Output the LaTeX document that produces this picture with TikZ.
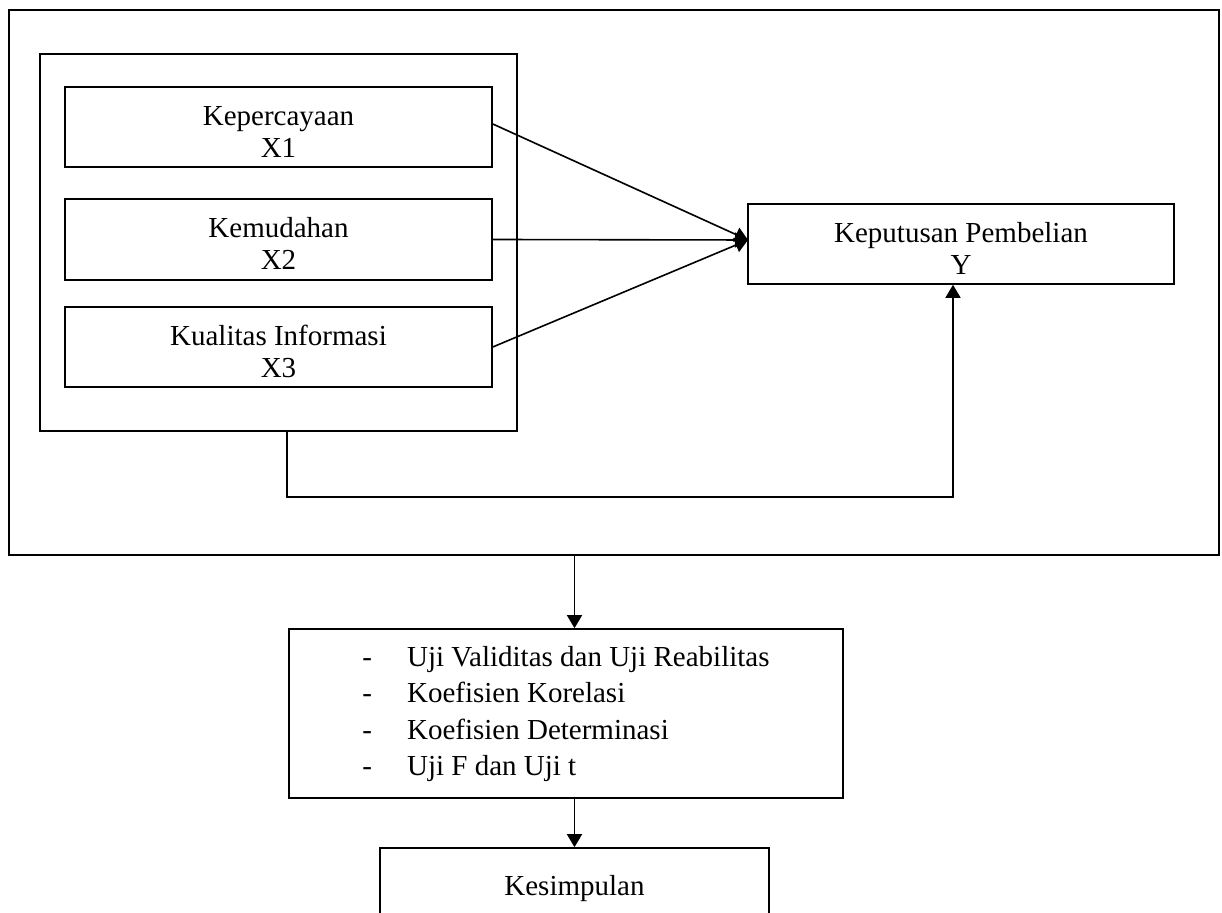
\documentclass[tikz,border=0pt]{standalone}
\usepackage{fontspec}
\setmainfont{Liberation Serif}
\usetikzlibrary{arrows.meta}
\newcommand\mytopstrut{\rule{0pt}{14.5pt}}
\begin{document}
\begin{tikzpicture}[x=0.5pt,y=-0.5pt,
  box/.style={draw,line width=0.8pt,inner sep=0pt,align=center,font=\fontsize{14.5}{16}\selectfont},
  arr/.style={line width=0.8pt,-{Triangle[length=6.5pt,width=7.5pt]}},
  ln/.style={line width=0.8pt}]
\clip (0,0) rectangle (1222,913);
\node[box,minimum width=605pt,minimum height=272.5pt] (outer) at (614,282.5) {};
\node[box,minimum width=238.5pt,minimum height=188.5pt] (inner) at (278.5,242.5) {};
\node[box,minimum width=213.5pt,minimum height=40pt] (x1) at (278.5,127) {\mytopstrut Kepercayaan\\X1};
\node[box,minimum width=213.5pt,minimum height=40.5pt] (x2) at (278.5,239.5) {\mytopstrut Kemudahan\\X2};
\node[box,minimum width=213.5pt,minimum height=40pt] (x3) at (278.5,347) {\mytopstrut Kualitas Informasi\\X3};
\node[box,minimum width=213pt,minimum height=40pt] (y) at (961,244) {\mytopstrut Keputusan Pembelian\\Y};
\node[box,minimum width=277pt,minimum height=84.5pt] (list) at (566,713.5) {\fontsize{14.5}{18.25}\selectfont\begin{tabular}{@{}l@{\hspace{17.5pt}}l@{}}
-&Uji Validitas dan Uji Reabilitas\\
-&Koefisien Korelasi\\
-&Koefisien Determinasi\\
-&Uji F dan Uji t
\end{tabular}};
\node[box,minimum width=194.5pt,minimum height=60pt] (kes) at (574.5,908) {};
\node[font=\fontsize{14.5}{16}\selectfont,inner sep=0pt] (kestext) at (574.5,889) {Kesimpulan};
% connectors
\coordinate (yin) at (748,240);
\draw[arr] ([yshift=1.5pt]x1.east) -- (yin);
\draw[arr] (x2.east) -- (yin);
\draw[arr] (x3.east) -- (yin);
\coordinate (c1) at (287,497);
\coordinate (c2) at (953,497);
\draw[arr] (inner.south -| c1) -- (c1) -- (c2) -- (y.south -| c2);
\draw[arr] (outer.south -| kes) -- (list.north -| kes);
\draw[arr] (list.south -| kes) -- (kes.north);
\end{tikzpicture}
\end{document}
